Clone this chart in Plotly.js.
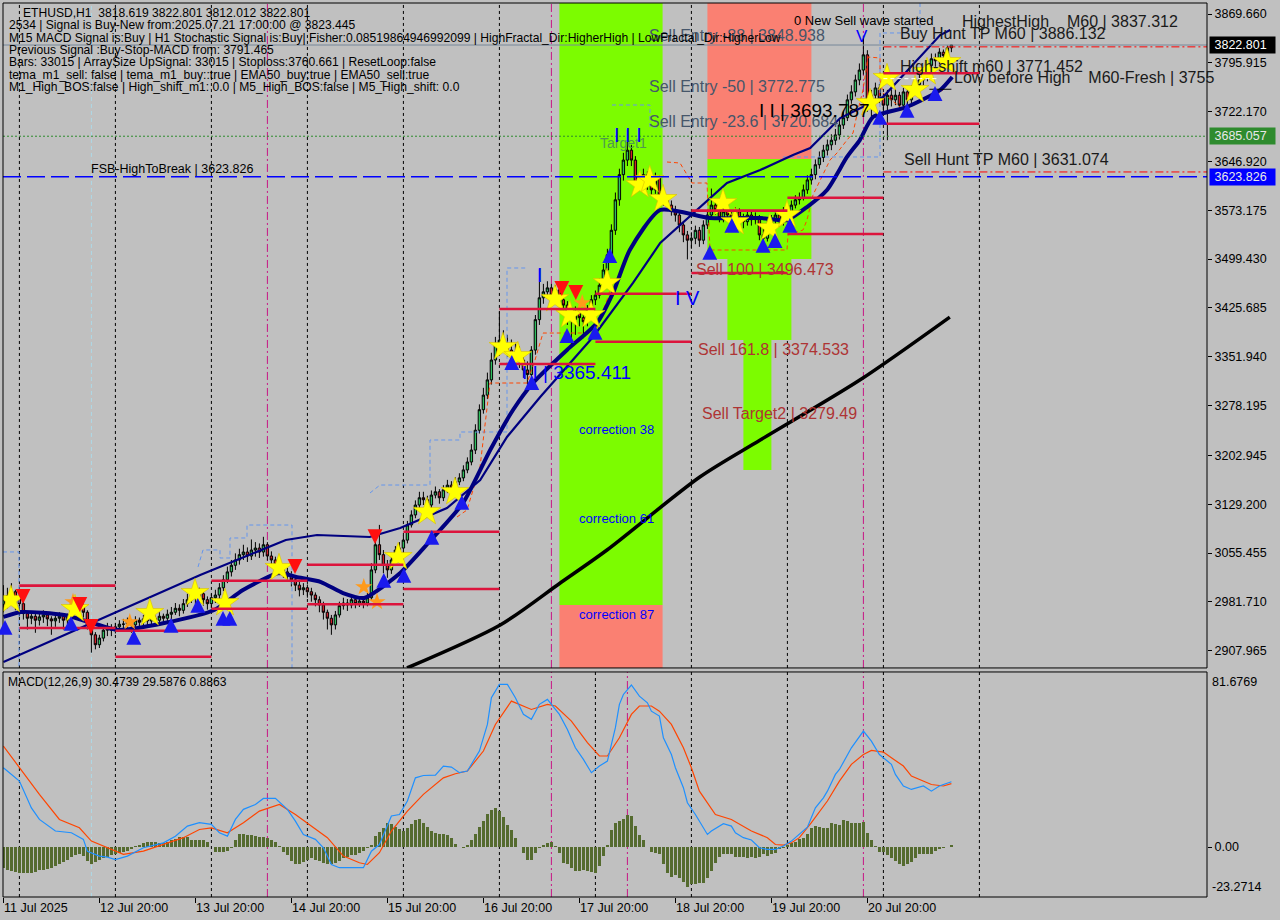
<!DOCTYPE html>
<html><head><meta charset="utf-8">
<script src="https://cdn.plot.ly/plotly-3.0.1.min.js"></script>
<style>html,body{margin:0;padding:0;background:#c0c0c0;}#chart{width:1280px;height:920px;}</style>
</head><body><div id="chart"></div>
<script>
// ---------- DATA (bar index 0 = 11 Jul 20:00, H1 bars) ----------
const openP = [2978,2985,2991,2997,2988,2979,2964,2957,2960,2954,
2959,2962,2956,2953,2957,2960,2954,2959,2970,2982,
2976,2966,2947,2932,2917,2927,2939,2942,2939,2944,
2948,2948,2951,2947,2954,2951,2956,2953,2957,2954,
2960,2957,2963,2966,2972,2969,2979,2985,2991,2988,
2994,2985,2979,2988,2992,3003,3015,3027,3037,3045,
3053,3057,3051,3060,3063,3057,3068,3051,3045,3037,
3030,3027,3022,3015,3007,3000,3003,2997,2992,2985,
2977,2966,2957,2947,2962,2976,2980,2977,2985,2979,
2983,2980,2988,3030,3068,3053,3037,3030,3045,3060,
3063,3075,3098,3113,3128,3139,3136,3128,3143,3148,
3139,3151,3158,3154,3163,3169,3181,3193,3211,3241,
3272,3294,3317,3347,3370,3377,3370,3362,3355,3359,
3347,3332,3325,3362,3408,3441,3450,3456,3445,3453,
3438,3430,3415,3408,3420,3411,3405,3423,3438,3445,
3460,3483,3506,3543,3589,3627,3649,3664,3649,3611,
3619,3627,3611,3604,3622,3596,3589,3581,3574,3566,
3551,3536,3528,3531,3543,3528,3551,3566,3581,3574,
3562,3571,3566,3559,3571,3562,3556,3566,3559,3562,
3536,3531,3551,3559,3566,3556,3571,3562,3581,3589,
3592,3604,3619,3627,3642,3653,3664,3672,3679,3687,
3702,3713,3740,3752,3770,3785,3808,3728,3747,3758,
3743,3732,3747,3740,3747,3732,3752,3740,3755,3763,
3770,3773,3792,3802,3799,3812,3807,3818.619];
const highP = [3007,3003,3010,3000,2992,2983,2968,2966,2964,2965,
2969,2966,2960,2963,2966,2963,2964,2975,2990,2986,
2979,2969,2950,2936,2932,2944,2950,2948,2950,2954,
2956,2958,2955,2960,2958,2962,2960,2963,2961,2966,
2964,2970,2974,2980,2978,2986,2994,3000,2998,3003,
2998,2990,2994,3000,3010,3022,3035,3045,3055,3062,
3068,3064,3076,3072,3070,3080,3072,3058,3050,3045,
3038,3033,3028,3020,3012,3010,3008,3003,2996,2990,
2982,2970,2962,2968,2982,2988,2986,2992,2990,2990,
2988,2995,3040,3080,3098,3060,3045,3052,3066,3072,
3082,3104,3120,3135,3148,3148,3142,3150,3156,3152,
3158,3166,3164,3170,3176,3188,3200,3220,3250,3280,
3305,3328,3358,3382,3420,3392,3385,3378,3372,3368,
3355,3345,3368,3415,3485,3462,3466,3462,3460,3458,
3442,3436,3422,3428,3426,3418,3430,3445,3452,3470,
3492,3515,3552,3600,3636,3660,3695,3672,3655,3628,
3636,3632,3618,3630,3626,3602,3594,3588,3580,3570,
3556,3542,3540,3550,3548,3558,3574,3606,3588,3580,
3578,3578,3572,3578,3576,3568,3572,3572,3570,3566,
3545,3558,3566,3572,3572,3578,3576,3588,3596,3600,
3612,3626,3636,3650,3662,3672,3680,3688,3696,3710,
3722,3748,3762,3778,3795,3837,3815,3755,3766,3764,
3750,3755,3756,3756,3752,3758,3760,3762,3770,3778,
3782,3800,3810,3810,3818,3816,3822,3822.801];
const lowP = [2966,2972,2977,2969,2960,2955,2940,2948,2935,2946,
2950,2945,2932,2944,2950,2940,2948,2955,2966,2968,
2958,2940,2905,2910,2912,2922,2930,2930,2934,2938,
2938,2942,2935,2942,2944,2946,2945,2948,2946,2950,
2950,2952,2956,2962,2960,2964,2974,2980,2978,2982,
2976,2970,2972,2980,2986,2998,3010,3020,3030,3038,
3045,3042,3045,3050,3048,3050,3044,3036,3028,3022,
3018,3012,3005,2998,2990,2992,2988,2982,2975,2966,
2955,2940,2932,2940,2958,2970,2968,2972,2972,2974,
2972,2975,2984,3025,3045,3025,3018,3024,3038,3052,
3058,3070,3094,3108,3122,3128,3120,3122,3138,3130,
3134,3146,3146,3150,3158,3164,3176,3188,3205,3236,
3266,3288,3310,3340,3362,3360,3352,3342,3345,3335,
3320,3310,3318,3355,3400,3432,3440,3435,3438,3428,
3418,3400,3367,3385,3398,3380,3398,3415,3430,3440,
3455,3478,3500,3536,3580,3618,3640,3640,3600,3604,
3612,3604,3596,3598,3588,3580,3572,3565,3556,3540,
3525,3499,3515,3522,3518,3522,3545,3560,3566,3555,
3555,3556,3550,3552,3554,3546,3550,3550,3552,3528,
3514,3526,3545,3552,3548,3550,3555,3558,3576,3582,
3588,3598,3612,3620,3636,3646,3656,3664,3672,3680,
3696,3708,3734,3745,3762,3778,3722,3714,3738,3735,
3722,3679,3730,3732,3725,3728,3732,3735,3748,3756,
3762,3768,3785,3790,3794,3800,3804,3812.012];
const closeP = [2985,2991,2997,2988,2979,2964,2957,2960,2954,2959,
2962,2956,2953,2957,2960,2954,2959,2970,2982,2976,
2966,2947,2932,2917,2927,2939,2942,2939,2944,2948,
2948,2951,2947,2954,2951,2956,2953,2957,2954,2960,
2957,2963,2966,2972,2969,2979,2985,2991,2988,2994,
2985,2979,2988,2992,3003,3015,3027,3037,3045,3053,
3057,3051,3060,3063,3057,3068,3051,3045,3037,3030,
3027,3022,3015,3007,3000,3003,2997,2992,2985,2977,
2966,2957,2947,2962,2976,2980,2977,2985,2979,2983,
2980,2988,3030,3068,3053,3037,3030,3045,3060,3063,
3075,3098,3113,3128,3139,3136,3128,3143,3148,3139,
3151,3158,3154,3163,3169,3181,3193,3211,3241,3272,
3294,3317,3347,3370,3377,3370,3362,3355,3359,3347,
3332,3325,3362,3408,3441,3450,3456,3445,3453,3438,
3430,3415,3408,3420,3411,3405,3423,3438,3445,3460,
3483,3506,3543,3589,3627,3649,3664,3649,3611,3619,
3627,3611,3604,3622,3596,3589,3581,3574,3566,3551,
3536,3528,3531,3543,3528,3551,3566,3581,3574,3562,
3571,3566,3559,3571,3562,3556,3566,3559,3562,3536,
3531,3551,3559,3566,3556,3571,3562,3581,3589,3592,
3604,3619,3627,3642,3653,3664,3672,3679,3687,3702,
3713,3740,3752,3770,3785,3808,3728,3747,3758,3743,
3732,3747,3740,3747,3732,3752,3740,3755,3763,3770,
3773,3792,3802,3799,3812,3807,3818.619,3822.801];

// MACD histogram (per bar)
const macdHist = [-9.7,-10.5,-11.2,-11.7,-12,-12.3,-12.2,-11.9,-11.5,-10.9,
-10.5,-10,-9.7,-8.9,-7.8,-6.9,-5.8,-4.7,-3.5,-3.1,
-4.2,-6.3,-7.8,-6.9,-5.8,-5,-4.4,-3.5,-3.1,-2.7,
-2.2,-1.6,-0.8,0.4,1.2,1.8,2.3,2.6,2.5,2.1,
1.8,2.3,3.1,3.9,4.6,4.9,4.8,3.5,3.2,3.2,
3.1,2.5,0.1,-2.2,-2.2,-2.2,-1.9,-0.3,3.5,6.3,
6.2,5.7,5.6,5.3,4.9,4.8,4.3,3.5,2.5,0.4,
-2.2,-3.8,-6.6,-7.8,-8.1,-6.9,-5.8,-5.3,-5.9,-6.6,
-7.2,-7.7,-8.1,-7.3,-6.3,-5.3,-4.5,-3.9,-3.5,-2.8,
-1.9,-0.3,1.2,5.1,7.1,9,11.3,10.9,9.3,8.4,
7.7,9,10.9,12.7,12.9,11.3,9.6,7.7,6.5,6.2,
6.3,5.6,4.3,1.5,0.1,-0.3,1.2,3.5,6.2,9.3,
12.4,15.5,17.5,18.3,16.8,14,10.5,8.2,4.3,0.1,
-2.7,-5.8,-5.8,-2.7,-0.3,0.9,2,2.5,0.4,-2.7,
-7.3,-8.1,-9.7,-11.2,-11.2,-10.9,-11.2,-11.7,-12,-8.9,
-4.2,0.9,8.2,11.3,12.1,12.9,15.2,14.5,9.8,5.6,
3.3,0.2,-2.2,-2.6,-3.4,-7.8,-12,-13.8,-13.1,-14.3,
-16.2,-18.5,-17.4,-17.4,-16.6,-16.6,-14.3,-11.2,-7.3,-4.5,
-3.1,-3.1,-3.1,-4.5,-4.5,-4.5,-5,-4.5,-5.3,-4.5,
-3.4,-4.2,-3.4,-2.6,-1.1,-0.3,1.2,2,2.5,3.6,
4.4,6.2,9,9.8,9.3,9,9,11.4,11,10.3,
12.6,12.1,11.4,11.4,11.4,11.8,6.7,3.3,0.5,-2.2,
-2.2,-3.9,-5,-6.5,-8.1,-8.9,-8.1,-7,-5,-3.4,
-3.1,-3.1,-3.4,-1.9,-0.8,-0.3,0.2,0.886];

// MACD main (blue) and signal (red), read at selected bars
const macdMainBar = [0,4,7,9,13,17,20,21,24,26,28,31,35,40,43,46,49,52,54,56,58,60,63,65,68,71,73,75,78,80,82,84,87,90,92,94,97,99,101,103,105,108,110,112,114,116,119,121,122,124,126,128,130,132,134,136,139,141,143,145,147,149,151,153,154,155,157,159,161,162,164,165,167,168,170,171,173,175,176,177,180,182,183,185,187,189,191,193,195,197,199,201,203,205,206,208,209,211,212,215,217,219,222,223,225,227,230,232,234,235,237];
const macdMainVal = [37,30.8,18.3,12.9,7.5,6.7,3.6,-1.9,-4.2,-4.7,-5.8,-4.2,-0.3,2,5.1,9.8,11.4,10.6,6.7,5.1,12.9,17.6,19.9,22.7,22.7,17.6,12.1,5.9,3.6,-0.3,-8.1,-9.6,-9.6,-9.6,-1.9,1.2,14.5,15.2,21.5,32.3,33.4,33.6,37.8,37.3,34.7,35.5,44.8,57.2,69.7,75.9,75.9,69.7,61.9,59.6,66.6,68.9,61.9,54.9,46.3,40.9,34.7,37.8,40.1,55.7,66.6,71.2,75.6,70.4,67.3,63.4,61.1,51,43.2,37,27.7,20.7,15.2,9,5.9,7.5,10.9,9.8,6.7,4.4,3.3,-0.3,-1.1,-1.1,0.5,2.8,5.9,9.3,18.3,23,26.1,33.9,36.2,43.2,46.3,54.1,49.4,43.2,38.6,33.9,28.5,26.9,28.5,26.1,28.5,29.2,30.4739];
const macdSigBar = [0,4,9,14,19,22,26,30,35,40,45,49,52,56,60,64,69,73,77,81,85,89,91,94,97,101,105,110,113,116,120,123,127,132,136,138,142,146,149,151,154,157,159,162,164,167,170,172,174,177,178,182,185,187,191,193,195,197,199,202,206,209,212,215,217,220,222,225,227,230,232,235,237];
const macdSigVal = [47.1,37,24.6,12.9,9,2.8,-0.3,-3.4,-1.9,1.2,4.4,8.2,9,6.7,11.4,16.8,19.9,15.2,9.8,4.4,-4.2,-7.3,-8.1,-2.6,7.5,16.8,24.6,32.3,34.2,35.5,44.8,57.2,68.1,64.2,66.6,65.8,58.8,48.7,42.5,42.5,51,61.9,65.8,65.8,63.4,57.2,46.3,37,26.1,17.6,15.2,12.9,9.8,7.5,4.4,1.2,0.9,2,4.4,11.4,21.5,30.8,38.6,43.2,45.1,44.3,41.7,37.8,33.1,30.8,29.2,28.5,29.5876];

// Moving averages (read at selected bars)
const emaFastBar = [0,4.4,15.2,21.4,28.7,40.2,52.7,59.9,68.9,73.2,79.4,84.9,90.2,99.2,106.2,114.9,121.7,127.4,132.4,140.9,148.4,152.4,156.6,164.2,176.6,189.2,195.9,200.9,205.9,210.9,214.1,217.4,225.9,234.2,237.2];
const emaFastVal = [2958.9,2966.4,2961.9,2951.3,2939.3,2949.8,2969.5,2999.7,3025.3,3019.3,3011.7,2995.1,2987.6,3025.3,3070.6,3131,3211.1,3271.5,3312.3,3362.2,3402.9,3448.3,3513.2,3573.6,3561.5,3561.5,3558.5,3578.1,3603.8,3653.7,3679.3,3714.1,3729.2,3754.9,3774.5];
const emaSlowBar = [0,49.2,70.6,78.4,91.6,99.2,110.9,119.2,125.9,134.2,147.4,157.4,164.2,180.9,189.2,197.4,201.7,209.2,219.9,234.2,236.7];
const emaSlowVal = [2890.9,3022.3,3075.2,3082.7,3079.7,3093.3,3123.5,3165.8,3230.8,3291.2,3381.8,3463.4,3523.8,3614.4,3634,3656.7,3667.3,3712.5,3744.3,3837.9,3845.5];
const sma200Bar = [100.9,124.2,139.2,150.9,174.1,189.2,214.1,236.6];
const sma200Val = [2881.9,2946.8,3010.3,3060.1,3170.3,3226.2,3316.8,3411.9];

// Stepped channel lines (null = gap)
const chanUpBar = [-0.1,3.9,3.9,null,48.65,49.9,54.15,54.15,56.65,56.65,60.9,60.9,72.15,72.15,null,91.65,94.15,106.65,106.65,114.15,114.15,125.9,125.9,131.15,null,152.15,161.65,161.65,165.9,null,194.9,219.15,219.15,229.15,229.15];
const chanUpVal = [3057.1,3057.1,2881,null,3034.4,3060.1,3060.1,3048,3048,3078.2,3078.2,3097.8,3097.8,2881,null,3146.2,3158.2,3158.2,3226.2,3226.2,3238.3,3238.3,3486,3486,null,3732.2,3732.2,3699,3699,null,3653.7,3653.7,3841,3841,3886];
const chanDnBar = [113.4,115.9,119.15,121.65,130.9,132.9,134.9,147.4,148.4,150.9,152.4,null,165.9,169.15,172.15,175.9,176.65,195.9,196.15,199.9,200.9,202.4,206.65,208.4,210.9,212.4,213.65,214.9,216.15,219.15,219.15,219.9,224.15,225.9,229.15,233.4,234.9];
const chanDnVal = [3109.9,3120.5,3185.5,3312.3,3312.3,3347,3387.8,3387.8,3396.9,3437.7,3467.9,null,3646.1,3644.6,3614.4,3614.4,3513.2,3513.2,3535.9,3543.4,3558.5,3596.3,3649.1,3659.7,3679.3,3689.9,3724.7,3754.9,3804.7,3803.2,3770,3750.3,3729.2,3724.7,3739.8,3747.3,3754.9];

// Signal markers
const starBar = [1.9,17.9,36.6,47.9,55.4,68.9,98.7,105.9,112.9,124.9,128.6,137.9,141.6,146.9,150.9,159.1,161.6,164.9,179.9,182.9,191.6,195.9,216.7,220.9,227.9,230.9,235.9];
const starVal = [2984.6,2970.9,2964.9,2995.1,2980,3032.9,3049.5,3117.5,3147.7,3366.7,3353.1,3439.2,3415,3415,3463.4,3611.4,3619,3590.2,3584.2,3555.5,3546.4,3566.1,3735.2,3773,3754.9,3782,3797.1];
const smallStarBar = [17.4,31.6,90.1,93.4,144.7];
const smallStarVal = [2981.6,2951.3,3004.2,2981.6,3433.1];
const upArrowBar = [0.4,16.9,32.6,41.9,48.6,54.9,56.6,95.1,100.1,107.1,114.6,127.1,132.1,140.9,147.9,151.6,176.6,182.1,189.9,192.9,196.6,219.1,225.9,232.9];
const upArrowVal = [2943.8,2949.8,2928.7,2946.8,2977,2957.4,2957.4,3014.8,3022.3,3079.7,3132.6,3344,3313.8,3384.8,3389.4,3505.6,3510.2,3551,3520.8,3528.3,3551,3714.1,3724.7,3750.3];
const dnArrowBar = [4.9,19.1,21.9,72.9,92.9,139.6,143.1];
const dnArrowVal = [2989.1,2977,2943.8,3034.4,3079.7,3454.3,3448.3];

// Daily red level segments
const segFrom = [4,4,28,28,52,52,76,76,100,100,124,124,148,148,172,172,196,196,220,220];
const segTo   = [28,28,52,52,76,76,100,100,124,124,148,148,172,172,196,196,220,220,244,244];
const segLevel= [3006.2,2942.3,2938.2,2898.9,3013.7,2971.4,3037.8,2978.1,3001.2,3087.7,3424.1,3341,3447.2,3374.5,3572.6,3478.5,3592.2,3537.4,3780.1,3703.9];

// Zones
const zoneX0 = [139,139,176,176,181,185];
const zoneX1 = [164.8,164.8,202,202,197,192];
const zoneLo = [2977,2860,3650.6,3499.6,3377.3,3180.9];
const zoneHi = [3900,2977,3900,3650.6,3499.6,3377.3];
const zoneCol= ['#7cfc00','#fa8072','#fa8072','#7cfc00','#7cfc00','#7cfc00'];

// Axes
const priceTicks = [3869.660,3795.915,3722.170,3646.920,3573.175,3499.430,3425.685,3351.940,3278.195,3202.945,3129.200,3055.455,2981.710,2907.965];
const timeTickBars = [0,24,48,72,96,120,144,168,192,216];
const timeTickLabels = ['11 Jul 2025','12 Jul 20:00','13 Jul 20:00','14 Jul 20:00','15 Jul 20:00','16 Jul 20:00','17 Jul 20:00','18 Jul 20:00','19 Jul 20:00','20 Jul 20:00'];
const gridBars = [4,28,52,76,100,124,148,172,196,220,244];
const markerLineBars = [66,137,156,215];
const separatorBar = 22;

const bidPrice = 3822.801, greenLevel = 3685.057, fsbLevel = 3623.826;

const infoLines = [
 'ETHUSD,H1\u00a0\u00a03818.619 3822.801 3812.012 3822.801',
 '2534 | Signal is Buy-New from:2025.07.21 17:00:00 @ 3823.445',
 'M15 MACD Signal is:Buy | H1 Stochastic Signal is:Buy| Fisher:0.08519864946992099 | HighFractal_Dir:HigherHigh | LowFractal_Dir:HigherLow',
 'Previous Signal :Buy-Stop-MACD from: 3791.465',
 'Bars: 33015 | ArraySize UpSignal: 33015 | Stoploss:3760.661 | ResetLoop:false',
 'tema_m1_sell: false | tema_m1_buy::true | EMA50_buy:true | EMA50_sell:true',
 'M1_High_BOS:false | High_shift_m1: 0.0 | M5_High_BOS:false | M5_High_shift: 0.0'];

// ---------- BUILD ----------
const F = 'Liberation Sans, Arial, sans-serif';
const bars = openP.map((_, i) => i);
const PD = [0.2562, 1], MD = [0, 0.2517];

const traces = [
 {type:'candlestick', x:bars, open:openP, high:highP, low:lowP, close:closeP, xaxis:'x', yaxis:'y',
  increasing:{line:{color:'#000000',width:1}, fillcolor:'#2fbf5f'},
  decreasing:{line:{color:'#000000',width:1}, fillcolor:'#d4202c'},
  whiskerwidth:0, hoverinfo:'skip'},
 {type:'scatter', mode:'lines', x:chanUpBar, y:chanUpVal, line:{color:'#6495ed',width:1,dash:'4px,3px'}, connectgaps:false, hoverinfo:'skip'},
 {type:'scatter', mode:'lines', x:chanDnBar, y:chanDnVal, line:{color:'#ff4500',width:1,dash:'4px,3px'}, connectgaps:false, hoverinfo:'skip'},
 {type:'scatter', mode:'lines', x:sma200Bar, y:sma200Val, line:{color:'#000000',width:3.5,shape:'spline',smoothing:0.8}, hoverinfo:'skip'},
 {type:'scatter', mode:'lines', x:emaSlowBar, y:emaSlowVal, line:{color:'#000080',width:2.2}, hoverinfo:'skip'},
 {type:'scatter', mode:'lines', x:emaFastBar, y:emaFastVal, line:{color:'#000080',width:4,shape:'spline',smoothing:0.6}, hoverinfo:'skip'},
 {type:'scatter', mode:'markers', x:smallStarBar, y:smallStarVal, marker:{symbol:'star', size:13, color:'#ff9a1a', line:{width:0}}, hoverinfo:'skip'},
 {type:'scatter', mode:'markers', x:starBar, y:starVal, marker:{symbol:'star', size:21, color:'#ffff00', line:{color:'#d8c000',width:0.6}}, hoverinfo:'skip'},
 {type:'bar', x:bars, y:macdHist, xaxis:'x', yaxis:'y2', width:0.75, marker:{color:'#556b2f', line:{width:0}}, hoverinfo:'skip'},
 {type:'scatter', mode:'lines', x:macdSigBar, y:macdSigVal, xaxis:'x', yaxis:'y2', line:{color:'#ff4500',width:1.2}, hoverinfo:'skip'},
 {type:'scatter', mode:'lines', x:macdMainBar, y:macdMainVal, xaxis:'x', yaxis:'y2', line:{color:'#1e90ff',width:1.2}, hoverinfo:'skip'}
];

const shapes = [];
zoneX0.forEach((x0, i) => shapes.push({type:'rect', layer:'below', xref:'x', yref:'y', x0:x0, x1:zoneX1[i], y0:zoneLo[i], y1:zoneHi[i], fillcolor:zoneCol[i], line:{width:0}}));
gridBars.forEach(b => {
  [PD, MD].forEach(d => shapes.push({type:'line', layer:'below', xref:'x', yref:'paper', x0:b, x1:b, y0:d[0], y1:d[1], line:{color:'#000000', width:1, dash:'3px,3px'}}));
});
markerLineBars.forEach(b => {
  [PD, MD].forEach(d => shapes.push({type:'line', layer:'below', xref:'x', yref:'paper', x0:b, x1:b, y0:d[0], y1:d[1], line:{color:'#c71585', width:1, dash:'8px,3px,2px,3px'}}));
});
[PD, MD].forEach(d => shapes.push({type:'line', layer:'below', xref:'x', yref:'paper', x0:separatorBar, x1:separatorBar, y0:d[0], y1:d[1], line:{color:'#add8e6', width:1, dash:'4px,3px'}}));
// horizontal objects
shapes.push({type:'line', layer:'above', xref:'paper', yref:'y', x0:0, x1:1, y0:bidPrice, y1:bidPrice, line:{color:'#778899', width:1}});
shapes.push({type:'line', layer:'above', xref:'paper', yref:'y', x0:0, x1:1, y0:greenLevel, y1:greenLevel, line:{color:'#2e8b2e', width:1, dash:'2px,2px'}});
shapes.push({type:'line', layer:'above', xref:'paper', yref:'y', x0:0, x1:1, y0:fsbLevel, y1:fsbLevel, line:{color:'#0000ff', width:1.5, dash:'18px,6px'}});
shapes.push({type:'line', layer:'above', xref:'x', yref:'y', x0:220, x1:301, y0:3820, y1:3820, line:{color:'#ff0000', width:1, dash:'8px,3px,2px,3px'}});
shapes.push({type:'line', layer:'above', xref:'x', yref:'y', x0:220, x1:301, y0:3631.074, y1:3631.074, line:{color:'#ff0000', width:1, dash:'8px,3px,2px,3px'}});
shapes.push({type:'line', layer:'above', xref:'x', yref:'y', x0:220, x1:234, y0:3772, y1:3772, line:{color:'#ffffff', width:1, dash:'4px,3px'}});
shapes.push({type:'line', layer:'above', xref:'x', yref:'y', x0:231.5, x1:237, y0:3756, y1:3756, line:{color:'#000000', width:1}});
segLevel.forEach((lv, i) => shapes.push({type:'line', layer:'above', xref:'x', yref:'y', x0:segFrom[i], x1:segTo[i], y0:lv, y1:lv, line:{color:'#dc143c', width:2.6}}));
// panel borders
[PD, MD].forEach(d => shapes.push({type:'rect', layer:'above', xref:'paper', yref:'paper', x0:0, x1:1, y0:d[0], y1:d[1], line:{color:'#000000', width:1}, fillcolor:'rgba(0,0,0,0)'}));

const ann = [];
// arrow signals (drawn as thick arrows: head at the signal, short shaft)
upArrowBar.forEach((b, i) => ann.push({x:b, y:upArrowVal[i], xref:'x', yref:'y', text:'', showarrow:true, arrowhead:2, arrowsize:0.85, arrowwidth:3.5, arrowcolor:'#1a1aee', ax:0, ay:14, yshift:7, standoff:0}));
dnArrowBar.forEach((b, i) => ann.push({x:b, y:dnArrowVal[i], xref:'x', yref:'y', text:'', showarrow:true, arrowhead:2, arrowsize:0.85, arrowwidth:3.5, arrowcolor:'#ff1010', ax:0, ay:-14, yshift:-7, standoff:0}));

const A = (text, x, y, o) => ann.push(Object.assign({text:text, x:x, y:y, xref:'x', yref:'y', showarrow:false, xanchor:'left', yanchor:'middle', font:{family:F, size:16, color:'#000'}}, o || {}));
const SE = '#46566a', SR = '#ae3434';
A('Sell Entry -88 | 3848.938', 160.9, 3837.9, {font:{family:F,size:16,color:SE}});
A('Sell Entry -50 | 3772.775', 160.9, 3760.9, {font:{family:F,size:16,color:SE}});
A('Sell Entry -23.6 | 3720.684', 160.9, 3708.0, {font:{family:F,size:16,color:SE}});
A('I I | 3693.787', 188.4, 3723.2, {font:{family:F,size:19,color:'#000'}});
A('0 New Sell wave started', 197.2, 3859.1, {font:{family:F,size:13,color:'#000'}});
A('V', 214.6, 3835, {xanchor:'center', font:{family:F,size:17,color:'#0000ff'}});
A('HighestHigh\u00a0\u00a0\u00a0\u00a0M60 | 3837.312', 239.2, 3857.6, {font:{family:F,size:16,color:'#1a1a1a'}});
A('Buy Hunt TP M60 | 3886.132', 223.65, 3839.5, {font:{family:F,size:16,color:'#1a1a1a'}});
A('High-shift m60 | 3771.452', 223.65, 3790, {font:{family:F,size:16,color:'#1a1a1a'}});
A('Low before High\u00a0\u00a0\u00a0\u00a0M60-Fresh | 3755', 237.1, 3773.4, {font:{family:F,size:16,color:'#1a1a1a'}});
A('Sell Hunt TP M60 | 3631.074', 224.65, 3650.2, {font:{family:F,size:16,color:'#1a1a1a'}});
A('Target1', 148.65, 3675, {font:{family:F,size:14,color:'#4f9a4f'}});
A('I I I', 156.15, 3686.9, {xanchor:'center', font:{family:F,size:20,color:'#0000ff'}});
A('I', 134.15, 3475.4, {xanchor:'center', font:{family:F,size:20,color:'#0000ff'}});
A('I V', 170.9, 3441, {xanchor:'center', font:{family:F,size:20,color:'#0000ff'}});
A('I I | 3365.411', 129.15, 3328.9, {font:{family:F,size:19,color:'#0000ff'}});
A('FSB-HighToBreak | 3623.826', 21.4, 3635.5, {font:{family:F,size:12.5,color:'#000'}});
A('Sell 100 | 3496.473', 172.65, 3484.5, {font:{family:F,size:16,color:SR}});
A('Sell 161.8 | 3374.533', 173.15, 3362.2, {font:{family:F,size:16,color:SR}});
A('Sell Target2 | 3279.49', 174.15, 3267, {font:{family:F,size:16,color:SR}});
A('correction 38', 143.4, 3242.8, {font:{family:F,size:13,color:'#0000ff'}});
A('correction 61', 143.4, 3108.4, {font:{family:F,size:13,color:'#0000ff'}});
A('correction 87', 143.4, 2963.4, {font:{family:F,size:13,color:'#0000ff'}});

const lineY = [12.7,25,37.5,50,62.3,74.5,86.8];
infoLines.forEach((t, i) => ann.push({text:t, xref:'paper', yref:'paper', x:0, y:1, xanchor:'left', yanchor:'middle', xshift:(i===0?18:4), yshift:-(lineY[i]-3), showarrow:false, font:{family:F,size:12.1,color:'#000'}}));
ann.push({text:'MACD(12,26,9) 30.4739 29.5876 0.8863', xref:'paper', yref:'paper', x:0, y:MD[1], xanchor:'left', yanchor:'middle', xshift:3, yshift:-10, showarrow:false, font:{family:F,size:12.1,color:'#000'}});
timeTickBars.forEach((b, i) => ann.push({text:timeTickLabels[i], xref:'x', yref:'paper', x:b, y:0, xanchor:'left', yanchor:'top', xshift:-1, yshift:-2, showarrow:false, font:{family:F,size:12.5,color:'#000'}}));
const boxLabel = (v, bg, fg) => ann.push({text:'\u00a0'+v.toFixed(3)+'\u00a0\u00a0', xref:'paper', yref:'y', x:1, y:v, xanchor:'left', yanchor:'middle', xshift:2, showarrow:false, bgcolor:bg, borderpad:1, font:{family:F,size:12.5,color:fg}});
boxLabel(bidPrice, '#000000', '#ffffff');
boxLabel(greenLevel, '#2e8b2e', '#e8e8e8');
boxLabel(fsbLevel, '#0000ff', '#e8e8e8');
ann.push({text:'81.6769', xref:'paper', yref:'y2', x:1, y:81.6769, xanchor:'left', yanchor:'top', xshift:3, yshift:-1, showarrow:false, font:{family:F,size:12.5,color:'#000'}});
ann.push({text:'-23.2714', xref:'paper', yref:'y2', x:1, y:-23.2714, xanchor:'left', yanchor:'bottom', xshift:3, yshift:1, showarrow:false, font:{family:F,size:12.5,color:'#000'}});

const layout = {
  width:1280, height:920, margin:{l:3, r:73, t:3, b:23},
  paper_bgcolor:'#c0c0c0', plot_bgcolor:'#c0c0c0', showlegend:false,
  font:{family:F, size:12.5, color:'#000'},
  boxgap:0.15,
  xaxis:{domain:[0,1], range:[-0.1,300.9], anchor:'y2', showgrid:false, zeroline:false, showline:false,
         tickvals:timeTickBars, ticktext:timeTickBars.map(()=>''), ticks:'outside', ticklen:5, tickcolor:'#000', rangeslider:{visible:false}, fixedrange:true},
  yaxis:{domain:PD, range:[2881.9,3886.27], side:'right', anchor:'x', showgrid:false, zeroline:false, showline:false,
         tickvals:priceTicks, ticktext:priceTicks.map(v=>v.toFixed(3)), ticks:'outside', ticklen:4, tickcolor:'#000', tickfont:{family:F,size:12.5,color:'#000'}, fixedrange:true},
  yaxis2:{domain:MD, range:[-23.2714,81.6769], side:'right', anchor:'x', showgrid:false, zeroline:false, showline:false,
         tickvals:[0], ticktext:['0.00'], ticks:'outside', ticklen:4, tickcolor:'#000', tickfont:{family:F,size:12.5,color:'#000'}, fixedrange:true},
  shapes:shapes, annotations:ann, bargap:0
};
Plotly.newPlot('chart', traces, layout, {displayModeBar:false, staticPlot:true});
</script></body></html>
